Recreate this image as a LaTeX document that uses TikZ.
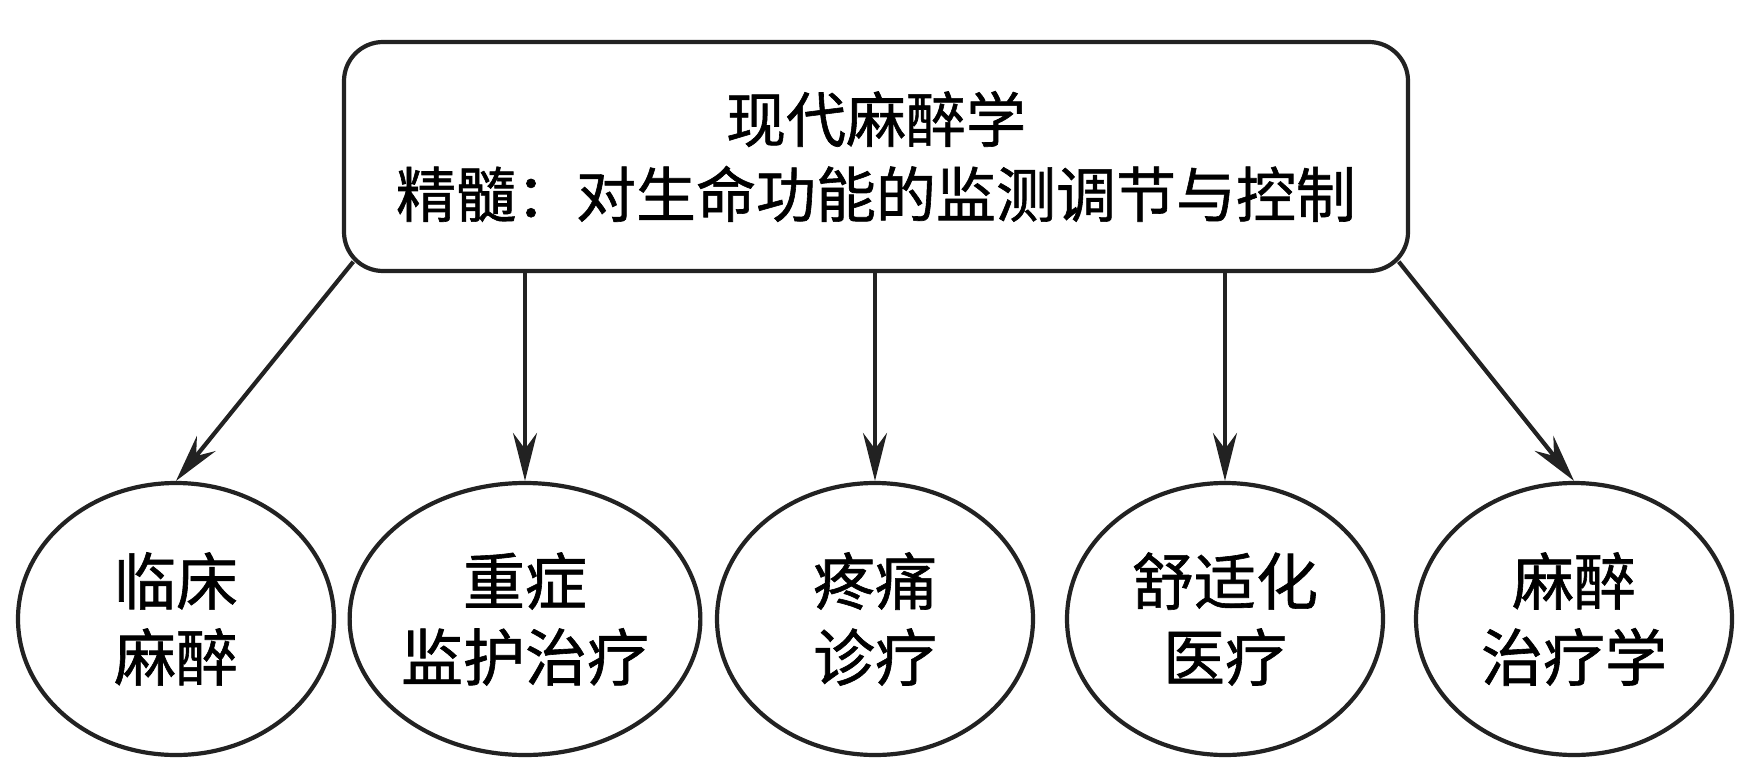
\documentclass[tikz,border=0pt]{standalone}
\usepackage{fontspec}
\setmainfont{Noto Sans CJK SC}[FakeBold=1.0]
\usetikzlibrary{arrows.meta,shapes.geometric,calc}
\definecolor{ink}{HTML}{222222}
\begin{document}
\begin{tikzpicture}[x=0.5pt,y=-0.5pt,
  topbox/.style={draw=ink,line width=2.1pt,rounded corners=19.5pt,minimum width=532pt,minimum height=114.5pt,align=center,font=\fontsize{30}{37.5}\selectfont,inner sep=0pt},
  leaf/.style={draw=ink,line width=2.1pt,ellipse,minimum width=158pt,minimum height=136pt,align=center,font=\fontsize{31}{38}\selectfont,inner sep=0pt},
  conn/.style={draw=ink,line width=2.1pt,-{Stealth[length=24pt,width=12pt,inset=8pt]}}]
\useasboundingbox (0,0) rectangle (1749,775);
\node[topbox] (top) at (876,156.5) {现代麻醉学\\精髓：对生命功能的监测调节与控制};
\node[leaf] (e1) at (176,619) {临床\\麻醉};
\node[leaf] (e2) at (525,619) {重症\\监护治疗};
\node[leaf] (e3) at (875,619) {疼痛\\诊疗};
\node[leaf] (e4) at (1225,619) {舒适化\\医疗};
\node[leaf] (e5) at (1574,619) {麻醉\\治疗学};
\coordinate (c1) at ([shift={(11.4,-11.4)}]top.south west);
\coordinate (c5) at ([shift={(-11.4,-11.4)}]top.south east);
\draw[conn] (c1) -- (e1.north);
\draw[conn] (top.south -| e2.north) -- (e2.north);
\draw[conn] (top.south -| e3.north) -- (e3.north);
\draw[conn] (top.south -| e4.north) -- (e4.north);
\draw[conn] (c5) -- (e5.north);
\end{tikzpicture}
\end{document}
